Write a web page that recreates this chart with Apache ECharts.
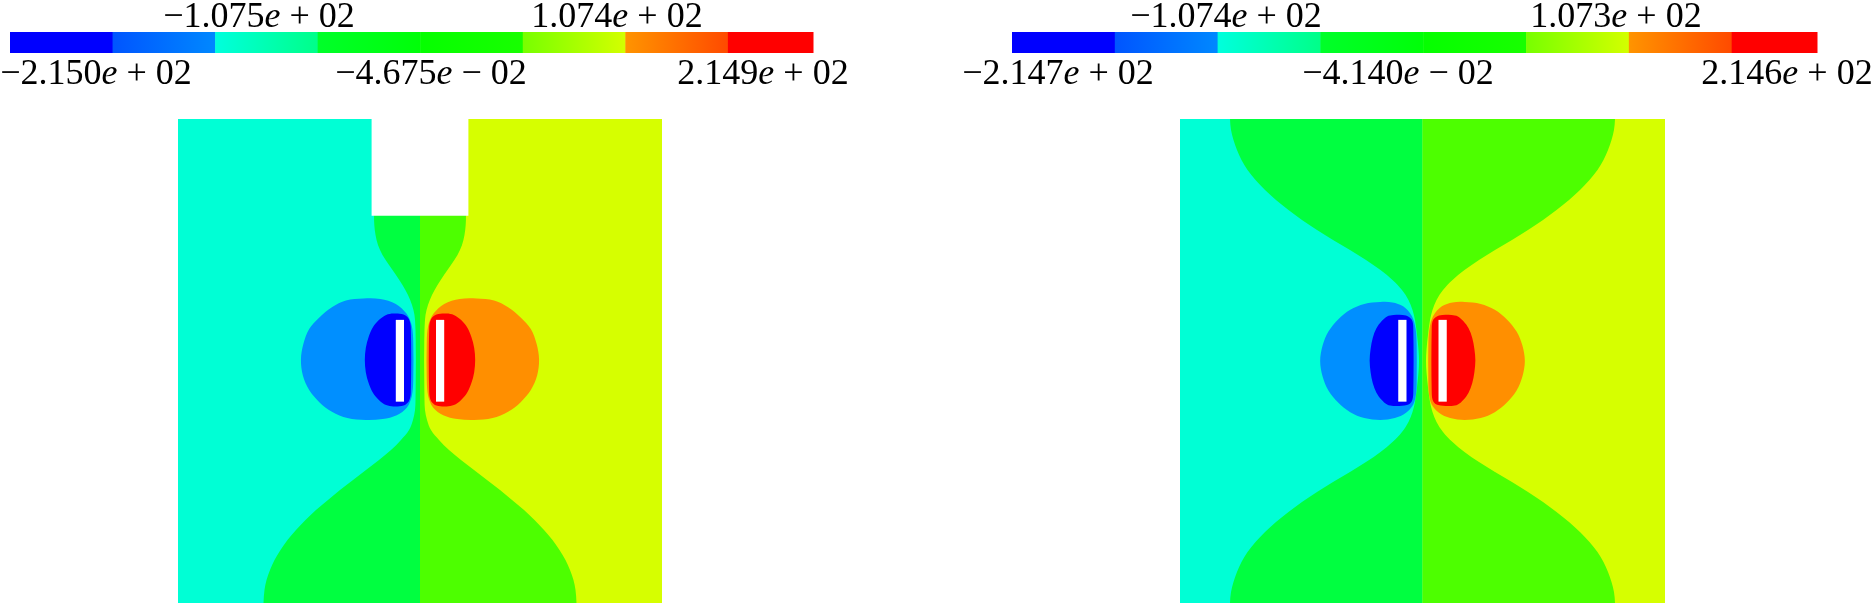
<!DOCTYPE html>
<html><head><meta charset="utf-8">
<script src="https://cdn.jsdelivr.net/npm/echarts@6/dist/echarts.min.js"></script>
<style>html,body{margin:0;padding:0;background:#fff}#c{width:1875px;height:603px}</style>
</head><body><div id="c"></div>
<script>
// ---------------- DATA ----------------
// colour-bar: segment edges (segment units) and gradient colours
const cbEdges = [0, 1, 2, 3, 4, 5, 6, 7, 7.83];
const cbFrom  = ['#0000FF', '#0055FF', '#00FFDD', '#00FF2A', '#05FF00', '#77FF00', '#FF9400', '#FF0000'];
const cbTo    = ['#0000FF', '#0088FF', '#00FF88', '#00FF08', '#18FF00', '#D4FF00', '#FF4A00', '#FF0000'];
const leftTickLabels  = ['−2.150e+02', '−1.075e+02', '−4.675e−02', '1.074e+02', '2.149e+02'];
const rightTickLabels = ['−2.147e+02', '−1.074e+02', '−4.140e−02', '1.073e+02', '2.146e+02'];

// contour bands, domain units 0..100 (x left→right, y bottom→top)
// left plot (with notch)
const L_green = [[40.5,112],[40.5,95],[40.50,79.96],[40.56,78.10],[40.81,76.03],[41.32,73.97],[42.25,71.90],[43.60,69.83],[45.04,67.77],[46.38,65.70],[47.52,63.64],[48.35,61.57],[48.86,59.50],[49.07,56.40],[49.13,52.27],[49.15,50],[49.13,47.7],[49.07,41.94],[48.97,39.88],[48.55,37.81],[47.73,35.74],[46.07,33.68],[44.01,31.61],[41.53,29.55],[38.84,27.48],[36.16,25.41],[33.47,23.35],[30.99,21.28],[28.51,19.21],[26.34,17.15],[24.38,15.08],[22.62,13.02],[21.18,10.95],[19.94,8.88],[19.01,6.82],[18.29,4.75],[17.87,2.69],[17.67,0],[17.6,-6],[50,-10],[50,0],[50,40],[50,80],[50,100],[50,112]];
const L_lime  = [[59.5,112],[59.5,95],[59.50,79.96],[59.44,78.10],[59.19,76.03],[58.68,73.97],[57.75,71.90],[56.40,69.83],[54.96,67.77],[53.62,65.70],[52.48,63.64],[51.65,61.57],[51.14,59.50],[50.93,56.40],[50.87,52.27],[50.85,50],[50.87,47.7],[50.93,41.94],[51.03,39.88],[51.45,37.81],[52.27,35.74],[53.93,33.68],[55.99,31.61],[58.47,29.55],[61.16,27.48],[63.84,25.41],[66.53,23.35],[69.01,21.28],[71.49,19.21],[73.66,17.15],[75.62,15.08],[77.38,13.02],[78.82,10.95],[80.06,8.88],[80.99,6.82],[81.71,4.75],[82.13,2.69],[82.33,0],[82.4,-6],[50,-10],[50,0],[50,40],[50,80],[50,100],[50,112]];
const L_lightBlue = [[38.3,62.9],[34.7,62.5],[31.8,61.1],[29.2,59.0],[27.1,56.6],[25.9,53.5],[25.4,50.3],[25.8,47.0],[27.1,44.0],[29.2,41.5],[31.8,39.5],[35.0,38.2],[38.8,37.8],[42.3,38.0],[45.2,38.8],[47.3,40.4],[48.3,42.7],[48.6,46],[48.6,54],[48.3,57.3],[47.2,59.8],[45.0,61.8],[41.8,62.8]];
const L_darkBlue  = [[44.5,59.8],[43.0,59.5],[41.55,58.5],[40.3,57.0],[39.4,55.0],[38.8,52.7],[38.6,50.2],[38.8,47.7],[39.4,45.4],[40.3,43.4],[41.55,41.9],[43.0,40.9],[44.5,40.6],[46.6,40.8],[47.7,41.7],[48.1,43.5],[48.1,56.9],[47.7,58.7],[46.6,59.6]];
const L_orange = [[61.7,62.9],[65.3,62.5],[68.2,61.1],[70.8,59.0],[72.9,56.6],[74.1,53.5],[74.6,50.3],[74.2,47.0],[72.9,44.0],[70.8,41.5],[68.2,39.5],[65.0,38.2],[61.2,37.8],[57.7,38.0],[54.8,38.8],[52.7,40.4],[51.7,42.7],[51.4,46],[51.4,54],[51.7,57.3],[52.8,59.8],[55.0,61.8],[58.2,62.8]];
const L_red    = [[55.5,59.8],[57.0,59.5],[58.45,58.5],[59.7,57.0],[60.6,55.0],[61.2,52.7],[61.4,50.2],[61.2,47.7],[60.6,45.4],[59.7,43.4],[58.45,41.9],[57.0,40.9],[55.5,40.6],[53.4,40.8],[52.3,41.7],[51.9,43.5],[51.9,56.9],[52.3,58.7],[53.4,59.6]];
const L_notch  = [[40,80],[60,80],[60,100.5],[40,100.5]];

// right plot (full rectangle)
const R_green = [[10.31,112],[10.31,104],[10.31,100],[10.52,97.73],[11.03,95.66],[11.75,93.60],[12.68,91.53],[13.92,89.46],[15.57,87.40],[17.53,85.33],[19.79,83.26],[22.37,81.20],[25.15,79.13],[28.25,77.07],[31.55,75.00],[35.05,72.93],[38.35,70.87],[41.34,68.80],[43.81,66.74],[45.77,64.67],[47.11,62.60],[47.94,60.54],[48.45,58.47],[48.87,55.37],[49.18,52.27],[49.28,50.0],[49.18,47.73],[48.87,44.63],[48.45,41.53],[47.94,39.46],[47.11,37.40],[45.77,35.33],[43.81,33.26],[41.34,31.20],[38.35,29.13],[35.05,27.07],[31.55,25.00],[28.25,22.93],[25.15,20.87],[22.37,18.80],[19.79,16.74],[17.53,14.67],[15.57,12.60],[13.92,10.54],[12.68,8.47],[11.75,6.40],[11.03,4.34],[10.52,2.27],[10.31,0],[10.31,-6],[50,-10],[50,0],[50,50],[50,100],[50,112]];
const R_lime  = [[89.69,112],[89.69,104],[89.69,100],[89.48,97.73],[88.97,95.66],[88.25,93.60],[87.32,91.53],[86.08,89.46],[84.43,87.40],[82.47,85.33],[80.21,83.26],[77.63,81.20],[74.85,79.13],[71.75,77.07],[68.45,75.00],[64.95,72.93],[61.65,70.87],[58.66,68.80],[56.19,66.74],[54.23,64.67],[52.89,62.60],[52.06,60.54],[51.55,58.47],[51.13,55.37],[50.82,52.27],[50.72,50.0],[50.82,47.73],[51.13,44.63],[51.55,41.53],[52.06,39.46],[52.89,37.40],[54.23,35.33],[56.19,33.26],[58.66,31.20],[61.65,29.13],[64.95,27.07],[68.45,25.00],[71.75,22.93],[74.85,20.87],[77.63,18.80],[80.21,16.74],[82.47,14.67],[84.43,12.60],[86.08,10.54],[87.32,8.47],[88.25,6.40],[88.97,4.34],[89.48,2.27],[89.69,0],[89.69,-6],[50,-10],[50,0],[50,50],[50,100],[50,112]];
const R_lightBlue = [[41.3,62.2],[38.0,61.8],[35.1,60.6],[32.6,58.6],[30.6,56.1],[29.4,53.2],[28.9,50.0],[29.4,46.8],[30.6,43.9],[32.6,41.4],[35.1,39.4],[38.0,38.2],[41.3,37.8],[44.3,38.2],[46.6,39.3],[48.1,41.0],[48.7,43.5],[48.8,47],[48.8,53],[48.6,56.5],[47.8,59.3],[46.0,61.3],[43.8,62.1]];
const R_darkBlue  = [[44.0,59.5],[42.7,59.2],[41.55,58.2],[40.5,56.75],[39.75,54.8],[39.3,52.5],[39.1,50.1],[39.3,47.7],[39.75,45.4],[40.5,43.45],[41.55,42.0],[42.7,41.0],[44.0,40.7],[46.8,40.9],[47.8,41.7],[48.1,43.5],[48.1,56.7],[47.8,58.5],[46.6,59.4]];
const R_orange = [[58.7,62.2],[62.0,61.8],[64.9,60.6],[67.4,58.6],[69.4,56.1],[70.6,53.2],[71.1,50.0],[70.6,46.8],[69.4,43.9],[67.4,41.4],[64.9,39.4],[62.0,38.2],[58.7,37.8],[55.7,38.2],[53.4,39.3],[51.9,41.0],[51.3,43.5],[51.2,47],[51.2,53],[51.4,56.5],[52.2,59.3],[54.0,61.3],[56.2,62.1]];
const R_red    = [[56.0,59.5],[57.3,59.2],[58.45,58.2],[59.5,56.75],[60.25,54.8],[60.7,52.5],[60.9,50.1],[60.7,47.7],[60.25,45.4],[59.5,43.45],[58.45,42.0],[57.3,41.0],[56.0,40.7],[53.2,40.9],[52.2,41.7],[51.9,43.5],[51.9,56.7],[52.2,58.5],[53.4,59.4]];

// background halves and electrode plates (same in both plots)
const halfLeft  = [[0,0],[50,0],[50,100],[0,100]];
const halfRight = [[50,0],[100,0],[100,100],[50,100]];
const plateLeft  = [[45.0,41.6],[46.7,41.6],[46.7,58.5],[45.0,58.5]];
const plateRight = [[53.3,41.6],[55.0,41.6],[55.0,58.5],[53.3,58.5]];

// ---------------- STYLE / LAYOUT ----------------
const C = {cyan:'#00FFD5', green:'#00FF40', lime:'#4DFF00', yellow:'#D6FF00',
           lightBlue:'#008FFF', darkBlue:'#0000FF', orange:'#FF8F00', red:'#FF0000', white:'#FFFFFF'};
const labelPosLeft  = [[96,75],[259,18],[431,75],[617,18],[763,75]];
const labelPosRight = [[1058,75],[1226,18],[1398,75],[1616,18],[1787,75]];
const FS = 36, FF = '"Liberation Serif", "DejaVu Serif", serif';
const SMOOTH = 0.33;

function poly(g, pts, color, z, smooth) {
  return {
    type: 'custom', coordinateSystem: 'cartesian2d', xAxisIndex: g, yAxisIndex: g,
    clip: true, silent: true, z: z, animation: false, data: [[50, 50]],
    renderItem: function (params, api) {
      return {type: 'polygon', shape: {points: pts.map(p => api.coord(p)), smooth: smooth || 0},
              style: {fill: color, stroke: null}};
    }
  };
}
function colorbar(g) {
  return {
    type: 'custom', coordinateSystem: 'cartesian2d', xAxisIndex: g, yAxisIndex: g,
    silent: true, animation: false, data: cbFrom.map((c, i) => [cbEdges[i], 0]),
    renderItem: function (params, api) {
      const i = params.dataIndex;
      const p0 = api.coord([cbEdges[i], 1]), p1 = api.coord([cbEdges[i + 1], 0]);
      return {type: 'rect', shape: {x: p0[0], y: p0[1], width: p1[0] - p0[0] + 0.5, height: p1[1] - p0[1]},
              style: {fill: {type: 'linear', x: 0, y: 0, x2: 1, y2: 0,
                             colorStops: [{offset: 0, color: cbFrom[i]}, {offset: 1, color: cbTo[i]}]}}};
    }
  };
}
function rich(s) {
  const i = s.indexOf('e');
  const m = s.slice(0, i), ex = s.slice(i + 1);
  return '{n|' + m + '}{e|e}{n| ' + ex[0] + ' ' + ex.slice(1) + '}';
}
function labels(list, pos) {
  return list.map((t, i) => ({
    type: 'text', x: pos[i][0], y: pos[i][1], silent: true,
    style: {text: rich(t), align: 'center', verticalAlign: 'middle', fill: '#000',
            fontSize: FS, fontFamily: FF,
            rich: {n: {fontSize: FS, fontFamily: FF, fill: '#000'},
                   e: {fontSize: FS, fontFamily: FF, fontStyle: 'italic', fill: '#000'}}}
  }));
}

const ax = (min, max) => ({type: 'value', min: min, max: max, show: false});
const option = {
  animation: false,
  backgroundColor: '#fff',
  grid: [
    {left: 178, top: 119, width: 484, height: 484},
    {left: 1180, top: 119, width: 485, height: 484},
    {left: 10, top: 32, width: 803, height: 21},
    {left: 1012, top: 32, width: 805, height: 21}
  ],
  xAxis: [
    Object.assign(ax(0, 100), {gridIndex: 0}), Object.assign(ax(0, 100), {gridIndex: 1}),
    Object.assign(ax(0, 7.83), {gridIndex: 2}), Object.assign(ax(0, 7.83), {gridIndex: 3})
  ],
  yAxis: [
    Object.assign(ax(0, 100), {gridIndex: 0}), Object.assign(ax(0, 100), {gridIndex: 1}),
    Object.assign(ax(0, 1), {gridIndex: 2}), Object.assign(ax(0, 1), {gridIndex: 3})
  ],
  series: [
    poly(0, halfLeft, C.cyan, 1), poly(0, halfRight, C.yellow, 1),
    poly(0, L_green, C.green, 2, SMOOTH), poly(0, L_lime, C.lime, 3, SMOOTH),
    poly(0, L_lightBlue, C.lightBlue, 4, SMOOTH), poly(0, L_orange, C.orange, 4, SMOOTH),
    poly(0, L_darkBlue, C.darkBlue, 5, SMOOTH), poly(0, L_red, C.red, 5, SMOOTH),
    poly(0, plateLeft, C.white, 6), poly(0, plateRight, C.white, 6),
    poly(0, L_notch, C.white, 7),

    poly(1, halfLeft, C.cyan, 1), poly(1, halfRight, C.yellow, 1),
    poly(1, R_green, C.green, 2, SMOOTH), poly(1, R_lime, C.lime, 3, SMOOTH),
    poly(1, R_lightBlue, C.lightBlue, 4, SMOOTH), poly(1, R_orange, C.orange, 4, SMOOTH),
    poly(1, R_darkBlue, C.darkBlue, 5, SMOOTH), poly(1, R_red, C.red, 5, SMOOTH),
    poly(1, plateLeft, C.white, 6), poly(1, plateRight, C.white, 6),

    colorbar(2), colorbar(3)
  ],
  graphic: labels(leftTickLabels, labelPosLeft).concat(labels(rightTickLabels, labelPosRight))
};
const chart = echarts.init(document.getElementById('c'), null, {renderer: 'canvas'});
chart.setOption(option);
</script>
</body></html>
